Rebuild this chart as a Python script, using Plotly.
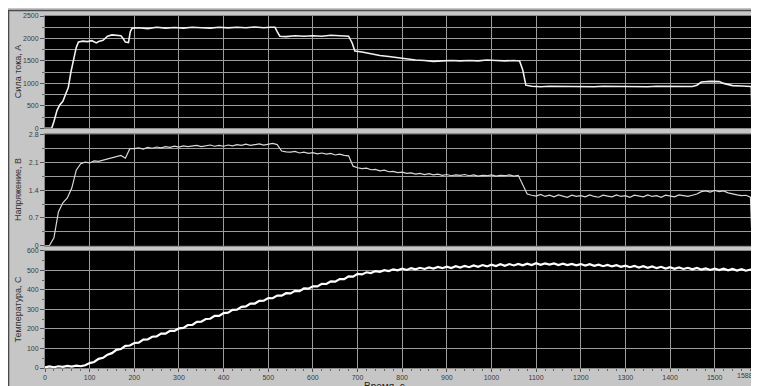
import plotly.graph_objects as go

# ---------------- data ----------------
# current, A (time s, value)
cur_t = [0, 15, 20, 27, 33, 40, 47, 52, 58, 64, 70, 75, 85, 95, 105, 115, 120, 130, 140, 150,
         160, 170, 175, 180, 187, 191, 195, 210, 230, 250, 270, 290, 310, 330, 350, 370, 390,
         410, 430, 450, 470, 490, 505, 515, 520, 526, 540, 560, 580, 600, 620, 640, 660, 680,
         688, 694, 710, 730, 750, 770, 790, 810, 830, 850, 870, 890, 910, 930, 950, 970, 990,
         1010, 1030, 1050, 1063, 1070, 1077, 1090, 1110, 1130, 1150, 1170, 1190, 1210, 1230,
         1250, 1270, 1290, 1310, 1330, 1350, 1370, 1390, 1410, 1430, 1450, 1460, 1470, 1490,
         1510, 1520, 1540, 1560, 1575, 1582, 1584, 1588]
cur_v = [0, 0, 150, 400, 520, 600, 780, 900, 1250, 1550, 1800, 1920, 1940, 1930, 1950, 1900,
         1930, 1960, 2050, 2080, 2070, 2060, 2000, 1920, 1910, 2150, 2230, 2240, 2220, 2250,
         2230, 2245, 2230, 2250, 2240, 2230, 2250, 2235, 2250, 2240, 2255, 2240, 2250, 2250,
         2150, 2050, 2040, 2060, 2050, 2060, 2050, 2070, 2060, 2050, 1900, 1720, 1700, 1660,
         1620, 1600, 1570, 1540, 1520, 1510, 1490, 1500, 1510, 1500, 1510, 1500, 1520, 1510,
         1500, 1510, 1500, 1300, 960, 935, 925, 935, 930, 925, 935, 930, 925, 935, 930, 925,
         935, 930, 925, 935, 930, 925, 935, 930, 960, 1030, 1045, 1040, 1000, 950, 940, 935,
         930, 0, 0]

# voltage, V (every 10 s)
volt_t = list(range(0, 1590, 10)) + [1584, 1588]
volt_v = [0, 0.01, 0.2, 0.85, 1.08, 1.2, 1.45, 1.9, 2.06, 2.1,
          2.08, 2.13, 2.12, 2.15, 2.17, 2.2, 2.24, 2.27, 2.2, 2.44,
          2.44, 2.46, 2.43, 2.47, 2.45, 2.48, 2.46, 2.49, 2.47, 2.5,
          2.48, 2.51, 2.49, 2.5, 2.52, 2.49, 2.51, 2.53, 2.5, 2.52,
          2.5, 2.53, 2.51, 2.54, 2.52, 2.55, 2.52, 2.54, 2.56, 2.53,
          2.55, 2.57, 2.54, 2.38, 2.36, 2.35, 2.37, 2.33, 2.35, 2.32,
          2.34, 2.31, 2.33, 2.3, 2.32, 2.28, 2.3, 2.27, 2.26, 2.0,
          1.96, 1.94, 1.95, 1.91, 1.92, 1.88, 1.9, 1.86, 1.87, 1.84,
          1.85, 1.82, 1.83, 1.8, 1.82, 1.79, 1.81, 1.78, 1.8, 1.77,
          1.79, 1.76, 1.78, 1.77, 1.79, 1.76, 1.78, 1.75, 1.77, 1.76,
          1.78, 1.75, 1.77, 1.76, 1.78, 1.75, 1.77, 1.55, 1.3, 1.27,
          1.25, 1.29, 1.24, 1.27, 1.23, 1.28, 1.25, 1.22, 1.27, 1.24,
          1.26, 1.23, 1.28, 1.24, 1.22, 1.27, 1.25, 1.23, 1.28, 1.24,
          1.26, 1.22, 1.27, 1.25, 1.23, 1.28, 1.24, 1.26, 1.22, 1.27,
          1.25, 1.23, 1.28, 1.26, 1.24, 1.27, 1.3, 1.36, 1.38, 1.35,
          1.39, 1.36, 1.38, 1.33, 1.3, 1.28, 1.26, 1.27, 1.22,
          0, 0]

# temperature, C (every 10 s)
temp_t = list(range(0, 1590, 10)) + [1588]
temp_v = [3, 8, 4, 9, 6, 11, 7, 12, 9, 14,
          25, 31, 47, 52, 68, 76, 93, 97, 113, 115,
          128, 130, 145, 146, 160, 162, 176, 176, 190, 190,
          203, 205, 220, 221, 236, 237, 251, 252, 267, 267,
          281, 283, 298, 299, 313, 315, 330, 330, 344, 345,
          358, 357, 371, 370, 383, 382, 395, 393, 407, 406,
          418, 418, 431, 430, 443, 442, 455, 455, 469, 468,
          482, 479, 490, 486, 496, 492, 501, 496, 505, 500,
          509, 502, 511, 505, 513, 507, 515, 509, 517, 511,
          519, 512, 521, 514, 523, 516, 525, 518, 527, 520,
          529, 522, 531, 523, 532, 525, 533, 526, 534, 527,
          536, 528, 535, 529, 535, 527, 534, 527, 533, 526,
          532, 524, 531, 523, 529, 521, 528, 520, 526, 518,
          524, 516, 523, 514, 521, 513, 520, 511, 518, 509,
          516, 508, 515, 507, 513, 505, 512, 504, 510, 502,
          509, 501, 508, 500, 507, 499, 506, 498, 504,
          500]

x_ticks = list(range(0, 1600, 100))
x_max = 1588
y1_ticks = [0, 500, 1000, 1500, 2000, 2500]
y2_ticks = [0, 0.7, 1.4, 2.1, 2.8]
y2_text = ["0", "0.7", "1.4", "2.1", "2.8"]
y3_ticks = [0, 100, 200, 300, 400, 500, 600]

titles = ["Сила тока, А", "Напряжение, В", "Температура, С"]
x_title = "Время, с"

# ---------------- figure ----------------
# (page body adds an 8 px white margin at left/top, like the reference's white strip)
W, H = 751, 378
ML, MR, MT, MB = 37, 4, 6, 18
PW, PH = W - ML - MR, H - MT - MB

fig = go.Figure()
fig.add_trace(go.Scatter(x=cur_t, y=cur_v, mode="lines", line=dict(color="#f2f2f2", width=1.6),
                         xaxis="x", yaxis="y", showlegend=False))
fig.add_trace(go.Scatter(x=volt_t, y=volt_v, mode="lines", line=dict(color="#d8d8d8", width=1.2),
                         xaxis="x2", yaxis="y2", showlegend=False))
fig.add_trace(go.Scatter(x=temp_t, y=temp_v, mode="lines", line=dict(color="#ffffff", width=2.2),
                         xaxis="x3", yaxis="y3", showlegend=False))

grid = "#9c9c9c"
frame = "#8a8a8a"
tickfont = dict(family="Liberation Sans, Arial, sans-serif", size=7, color="#3a3a3a")

def xax(anchor, labels):
    return dict(domain=[0, 1], range=[0, x_max], anchor=anchor, tickvals=x_ticks,
                showticklabels=labels, showgrid=True, gridcolor=grid, gridwidth=1,
                zeroline=False, showline=True, mirror=True, linecolor=frame, linewidth=1,
                ticks="outside" if labels else "", ticklen=3, tickcolor="#555",
                tickfont=tickfont, fixedrange=True,
                minor=dict(dtick=20, tick0=0, ticks="outside" if labels else "", ticklen=2,
                           tickcolor="#666", showgrid=False))

def yax(domain, rng, tickvals, ticktext, minor_dtick):
    return dict(domain=domain, range=rng, tickvals=tickvals, ticktext=ticktext,
                showgrid=True, gridcolor=grid, gridwidth=1, zeroline=False,
                showline=True, mirror=True, linecolor=frame, linewidth=1,
                ticks="outside", ticklen=4, tickcolor="#555", tickfont=tickfont,
                minor=dict(dtick=minor_dtick, tick0=0, showgrid=minor_dtick is not None,
                           gridcolor=grid, ticks="outside", ticklen=2, tickcolor="#666"))

fig.update_layout(
    width=W, height=H,
    margin=dict(l=ML, r=MR, t=MT, b=MB),
    paper_bgcolor="#c6c6c6",
    plot_bgcolor="#000000",
    xaxis=xax("y", False),
    xaxis2=xax("y2", False),
    xaxis3=xax("y3", True),
    yaxis=yax([0.681, 1.0], [0, 2500], y1_ticks, [str(v) for v in y1_ticks], 250),
    yaxis2=yax([0.347, 0.664], [0, 2.8], y2_ticks, y2_text, 0.35),
    yaxis3=yax([0.0, 0.333], [0, 600], y3_ticks, [str(v) for v in y3_ticks], None),
)

# dark frame around the whole panel
fig.add_shape(type="rect", xref="paper", yref="paper",
              x0=-ML / PW + 0.0007, x1=1 + MR / PW + 0.01, y0=-MB / PH - 0.05, y1=1 + MT / PH - 0.0014,
              fillcolor="rgba(0,0,0,0)", line=dict(color="#4a4a4a", width=1.5), layer="above")

tfont = dict(family="Liberation Sans, Arial, sans-serif", size=9, color="#333333")
for ax, txt in zip(["y", "y2", "y3"], titles):
    fig.add_annotation(text=txt, xref="paper", yref=ax + " domain", x=0, y=0.5,
                       xshift=-27, textangle=-90, showarrow=False, font=tfont,
                       xanchor="center", yanchor="middle")

fig.add_annotation(text=x_title, xref="paper", yref="paper", x=(385 - 45) / PW, y=0,
                   yshift=-11, showarrow=False, font=dict(family="Liberation Sans, Arial, sans-serif",
                                                          size=10, color="#222"),
                   xanchor="center", yanchor="top")
fig.add_annotation(text=str(x_max), xref="paper", yref="paper", x=1, y=0, xshift=-9, yshift=-2,
                   showarrow=False, font=tickfont, xanchor="center", yanchor="top")

fig.write_html("out.html")
